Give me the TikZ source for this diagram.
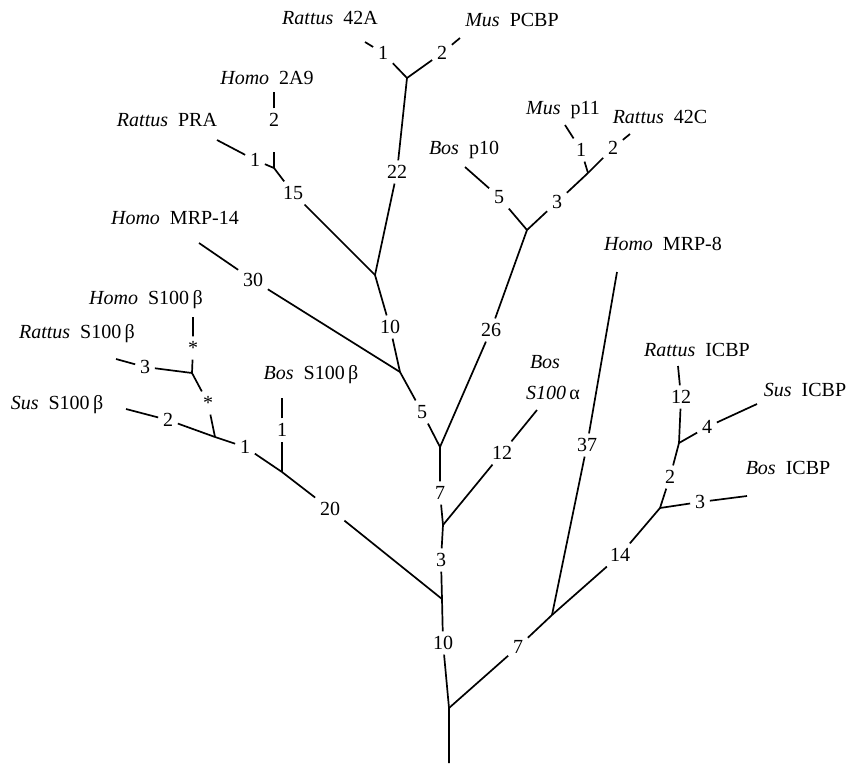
\documentclass[tikz,border=0pt]{standalone}
\usepackage{fontspec}
\setmainfont{Liberation Serif}
\newcommand{\taxon}[2]{\textit{#1}\hspace{0.5em}#2}
\begin{document}
\begin{tikzpicture}[x=1pt,y=-1pt,line width=1.7pt,
  cnt/.style={font=\fontsize{20}{24}\selectfont,inner sep=4pt,text height=13.5pt,text depth=0pt},
  leaf/.style={font=\fontsize{20}{24}\selectfont,inner sep=2pt,text height=13.5pt,text depth=0pt}]
\useasboundingbox (0,0) rectangle (847,764);

% species
\node[leaf] (r42a) at (330,18) {\taxon{Rattus}{42A}};
\node[leaf] (pcbp) at (512,20) {\taxon{Mus}{PCBP}};
\node[leaf] (a29) at (267,78) {\taxon{Homo}{2A9}};
\node[leaf] (pra) at (167,120) {\taxon{Rattus}{PRA}};
\node[leaf] (p10) at (464,148) {\taxon{Bos}{p10}};
\node[leaf] (p11) at (563,108) {\taxon{Mus}{p11}};
\node[leaf] (r42c) at (660,117) {\taxon{Rattus}{42C}};
\node[leaf] (mrp14) at (175,218) {\taxon{Homo}{MRP-14}};
\node[leaf] (mrp8) at (663,244) {\taxon{Homo}{MRP-8}};
\node[leaf] (hsb) at (146,298) {\taxon{Homo}{S100\,β}};
\node[leaf] (rsb) at (77,332) {\taxon{Rattus}{S100\,β}};
\node[leaf] (ssb) at (57,403) {\taxon{Sus}{S100\,β}};
\node[leaf] (bsb) at (311,373) {\taxon{Bos}{S100\,β}};
\node[leaf] (bsa) at (545,362) {\textit{Bos}};
\node[leaf] (bsa2) at (553,393) {\textit{S100}\,α};
\node[leaf] (ricbp) at (697,350) {\taxon{Rattus}{ICBP}};
\node[leaf] (sicbp) at (805,390) {\taxon{Sus}{ICBP}};
\node[leaf] (bicbp) at (788,468) {\taxon{Bos}{ICBP}};

% branch lengths
\node[cnt] (c10) at (443,643) {10};
\node[cnt] (c3) at (441,560) {3};
\node[cnt] (c7) at (440,493) {7};
\node[cnt] (c5) at (422,412) {5};
\node[cnt] (c10b) at (390,327) {10};
\node[cnt] (c22) at (397,172) {22};
\node[cnt] (c1a) at (383,53) {1};
\node[cnt] (c2a) at (442,53) {2};
\node[cnt] (c15) at (293,193) {15};
\node[cnt] (c1b) at (255,160) {1};
\node[cnt] (c2b) at (274,120) {2};
\node[cnt] (c30) at (253,280) {30};
\node[cnt] (c26) at (491,330) {26};
\node[cnt] (c5b) at (499,197) {5};
\node[cnt] (c3b) at (557,202) {3};
\node[cnt] (c1c) at (581,150) {1};
\node[cnt] (c2c) at (613,148) {2};
\node[cnt] (c20) at (330,509) {20};
\node[cnt] (c1d) at (282,430) {1};
\node[cnt] (c1e) at (245,447) {1};
\node[cnt] (c2d) at (168,420) {2};
\node[cnt] (s1) at (208,403) {*};
\node[cnt] (c3c) at (145,367) {3};
\node[cnt] (s2) at (193,348) {*};
\node[cnt] (c12) at (502,453) {12};
\node[cnt] (c7b) at (518,647) {7};
\node[cnt] (c37) at (587,445) {37};
\node[cnt] (c14) at (620,555) {14};
\node[cnt] (c3d) at (700,502) {3};
\node[cnt] (c2e) at (670,477) {2};
\node[cnt] (c12b) at (681,397) {12};
\node[cnt] (c4) at (707,427) {4};

% forks
\coordinate (rt) at (449,763);
\coordinate (f0) at (449,708);
\coordinate (f1) at (442,599);
\coordinate (f2) at (443,525);
\coordinate (f3) at (440,447);
\coordinate (f4) at (400,372);
\coordinate (f5) at (375,275);
\coordinate (f6) at (407,78);
\coordinate (f7) at (274,168);
\coordinate (f8) at (527,230);
\coordinate (f9) at (588,173);
\coordinate (f10) at (282,472);
\coordinate (f11) at (215,437);
\coordinate (f12) at (192,373);
\coordinate (f13) at (552,615);
\coordinate (f14) at (660,508);
\coordinate (f15) at (679,443);

% tips
\coordinate (t42a) at (365,42);
\coordinate (tpcbp) at (460,38);
\coordinate (t2a9) at (274,92);
\coordinate (tpra) at (217,140);
\coordinate (tp10) at (465,167);
\coordinate (tp11) at (565,125);
\coordinate (t42c) at (630,134);
\coordinate (tmrp14) at (199,243);
\coordinate (tmrp8) at (617,272);
\coordinate (thsb) at (193,317);
\coordinate (trsb) at (116,359);
\coordinate (tssb) at (126,409);
\coordinate (tbsb) at (282,398);
\coordinate (tbsa) at (537,410);
\coordinate (tricbp) at (678,366);
\coordinate (tsicbp) at (757,404);
\coordinate (tbicbp) at (747,496);

% trunk
\draw (rt) -- (f0) -- (c10) -- (f1) -- (c3) -- (f2) -- (c7) -- (f3) -- (c5) -- (f4) -- (c10b) -- (f5) -- (c22) -- (f6);
\draw (f6) -- (c1a) -- (t42a);
\draw (f6) -- (c2a) -- (tpcbp);
\draw (f5) -- (c15) -- (f7);
\draw (f7) -- (c1b) -- (tpra);
\draw[shorten >=20pt] (f7) -- (c2b);
\draw (c2b) -- (t2a9);
\draw (f4) -- (c30) -- (tmrp14);
\draw (f3) -- (c26) -- (f8);
\draw (f8) -- (c5b) -- (tp10);
\draw (f8) -- (c3b) -- (f9);
\draw (f9) -- (c1c) -- (tp11);
\draw (f9) -- (c2c) -- (t42c);
\draw (f2) -- (c12) -- (tbsa);

% S100 beta
\draw (f1) -- (c20) -- (f10);
\draw (f10) -- (c1d) -- (tbsb);
\draw (f10) -- (c1e) -- (f11);
\draw (f11) -- (c2d) -- (tssb);
\draw (f11) -- (s1) -- (f12);
\draw (f12) -- (c3c) -- (trsb);
\draw (f12) -- (s2) -- (thsb);

% MRP-8 and ICBP
\draw (f0) -- (c7b) -- (f13);
\draw (f13) -- (c37) -- (tmrp8);
\draw (f13) -- (c14) -- (f14);
\draw (f14) -- (c3d) -- (tbicbp);
\draw (f14) -- (c2e) -- (f15);
\draw (f15) -- (c12b) -- (tricbp);
\draw (f15) -- (c4) -- (tsicbp);
\end{tikzpicture}
\end{document}
